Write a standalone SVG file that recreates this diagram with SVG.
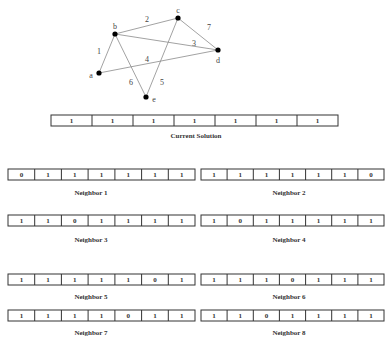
<svg xmlns="http://www.w3.org/2000/svg" width="386" height="338" viewBox="0 0 386 338">
  <style>
    .edge { stroke: #8a8a8a; stroke-width: 0.8; fill: none; }
    .node { fill: #000; }
    .glbl { font-family: "Liberation Serif", "Times New Roman", serif; font-size: 8px; fill: #444; text-anchor: middle; }
    .cell { fill: #fff; stroke: #333; stroke-width: 1; }
    .bit { font-family: "Liberation Serif", "Times New Roman", serif; font-size: 7px; font-weight: bold; fill: #333; text-anchor: middle; }
    .cap { font-family: "Liberation Serif", "Times New Roman", serif; font-size: 7px; font-weight: bold; fill: #333; text-anchor: middle; }
  </style>

  <!-- graph edges -->
  <g id="connectors">
    <line class="edge" x1="115" y1="34" x2="178" y2="18"/>
    <line class="edge" x1="178" y1="18" x2="218" y2="50"/>
    <line class="edge" x1="115" y1="34" x2="218" y2="50"/>
    <line class="edge" x1="99" y1="73" x2="115" y2="34"/>
    <line class="edge" x1="99" y1="73" x2="218" y2="50"/>
    <line class="edge" x1="115" y1="34" x2="146" y2="97"/>
    <line class="edge" x1="178" y1="18" x2="146" y2="97"/>
    <text class="glbl" x="147" y="22">2</text>
    <text class="glbl" x="209" y="30">7</text>
    <text class="glbl" x="99" y="54">1</text>
    <text class="glbl" x="194" y="46">3</text>
    <text class="glbl" x="147" y="62">4</text>
    <text class="glbl" x="131" y="85">6</text>
    <text class="glbl" x="162" y="85">5</text>
  </g>

  <!-- graph vertices -->
  <g id="node-a"><circle class="node" cx="99" cy="73" r="2.6"/><text class="glbl" x="91" y="78">a</text></g>
  <g id="node-b"><circle class="node" cx="115" cy="34" r="2.6"/><text class="glbl" x="115" y="29">b</text></g>
  <g id="node-c"><circle class="node" cx="178" cy="18" r="2.6"/><text class="glbl" x="178" y="13">c</text></g>
  <g id="node-d"><circle class="node" cx="218" cy="50" r="2.6"/><text class="glbl" x="218" y="63">d</text></g>
  <g id="node-e"><circle class="node" cx="146" cy="97" r="2.6"/><text class="glbl" x="154" y="102">e</text></g>

  <!-- current solution vector -->
  <g id="current">
    <rect class="cell" x="51" y="115" width="287" height="11"/>
    <g stroke="#333" stroke-width="1">
      <line x1="92" y1="115" x2="92" y2="126"/><line x1="133" y1="115" x2="133" y2="126"/>
      <line x1="174" y1="115" x2="174" y2="126"/><line x1="215" y1="115" x2="215" y2="126"/>
      <line x1="256" y1="115" x2="256" y2="126"/><line x1="297" y1="115" x2="297" y2="126"/>
    </g>
    <text class="bit" x="71.5" y="123">1</text><text class="bit" x="112.5" y="123">1</text>
    <text class="bit" x="153.5" y="123">1</text><text class="bit" x="194.5" y="123">1</text>
    <text class="bit" x="235.5" y="123">1</text><text class="bit" x="276.5" y="123">1</text>
    <text class="bit" x="317.5" y="123">1</text>
    <text class="cap" x="196" y="138">Current Solution</text>
  </g>

  <defs>
    <!-- left and right 7-cell vectors -->
    <g id="vecL">
      <rect class="cell" x="8" y="0" width="187" height="11"/>
      <g stroke="#333" stroke-width="1">
        <line x1="34.7" y1="0" x2="34.7" y2="11"/><line x1="61.4" y1="0" x2="61.4" y2="11"/>
        <line x1="88.1" y1="0" x2="88.1" y2="11"/><line x1="114.9" y1="0" x2="114.9" y2="11"/>
        <line x1="141.6" y1="0" x2="141.6" y2="11"/><line x1="168.3" y1="0" x2="168.3" y2="11"/>
      </g>
    </g>
    <g id="vecR">
      <rect class="cell" x="201" y="0" width="183" height="11"/>
      <g stroke="#333" stroke-width="1">
        <line x1="227.1" y1="0" x2="227.1" y2="11"/><line x1="253.3" y1="0" x2="253.3" y2="11"/>
        <line x1="279.4" y1="0" x2="279.4" y2="11"/><line x1="305.6" y1="0" x2="305.6" y2="11"/>
        <line x1="331.7" y1="0" x2="331.7" y2="11"/><line x1="357.9" y1="0" x2="357.9" y2="11"/>
      </g>
    </g>
  </defs>

  <g id="neighbor-1" transform="translate(0,169)">
    <use href="#vecL"/>
    <text class="bit" x="21.4" y="8">0</text><text class="bit" x="48.1" y="8">1</text><text class="bit" x="74.8" y="8">1</text>
    <text class="bit" x="101.5" y="8">1</text><text class="bit" x="128.2" y="8">1</text><text class="bit" x="155" y="8">1</text>
    <text class="bit" x="181.7" y="8">1</text>
    <text class="cap" x="91" y="26">Neighbor 1</text>
  </g>
  <g id="neighbor-2" transform="translate(0,169)">
    <use href="#vecR"/>
    <text class="bit" x="214" y="8">1</text><text class="bit" x="240.2" y="8">1</text><text class="bit" x="266.4" y="8">1</text>
    <text class="bit" x="292.5" y="8">1</text><text class="bit" x="318.6" y="8">1</text><text class="bit" x="344.8" y="8">1</text>
    <text class="bit" x="371" y="8">0</text>
    <text class="cap" x="289" y="26">Neighbor 2</text>
  </g>

  <g id="neighbor-3" transform="translate(0,215)">
    <use href="#vecL"/>
    <text class="bit" x="21.4" y="8">1</text><text class="bit" x="48.1" y="8">1</text><text class="bit" x="74.8" y="8">0</text>
    <text class="bit" x="101.5" y="8">1</text><text class="bit" x="128.2" y="8">1</text><text class="bit" x="155" y="8">1</text>
    <text class="bit" x="181.7" y="8">1</text>
    <text class="cap" x="91" y="27">Neighbor 3</text>
  </g>
  <g id="neighbor-4" transform="translate(0,215)">
    <use href="#vecR"/>
    <text class="bit" x="214" y="8">1</text><text class="bit" x="240.2" y="8">0</text><text class="bit" x="266.4" y="8">1</text>
    <text class="bit" x="292.5" y="8">1</text><text class="bit" x="318.6" y="8">1</text><text class="bit" x="344.8" y="8">1</text>
    <text class="bit" x="371" y="8">1</text>
    <text class="cap" x="289" y="27">Neighbor 4</text>
  </g>

  <g id="neighbor-5" transform="translate(0,274)">
    <use href="#vecL"/>
    <text class="bit" x="21.4" y="8">1</text><text class="bit" x="48.1" y="8">1</text><text class="bit" x="74.8" y="8">1</text>
    <text class="bit" x="101.5" y="8">1</text><text class="bit" x="128.2" y="8">1</text><text class="bit" x="155" y="8">0</text>
    <text class="bit" x="181.7" y="8">1</text>
    <text class="cap" x="91" y="25">Neighbor 5</text>
  </g>
  <g id="neighbor-6" transform="translate(0,274)">
    <use href="#vecR"/>
    <text class="bit" x="214" y="8">1</text><text class="bit" x="240.2" y="8">1</text><text class="bit" x="266.4" y="8">1</text>
    <text class="bit" x="292.5" y="8">0</text><text class="bit" x="318.6" y="8">1</text><text class="bit" x="344.8" y="8">1</text>
    <text class="bit" x="371" y="8">1</text>
    <text class="cap" x="289" y="25">Neighbor 6</text>
  </g>

  <g id="neighbor-7" transform="translate(0,310)">
    <use href="#vecL"/>
    <text class="bit" x="21.4" y="8">1</text><text class="bit" x="48.1" y="8">1</text><text class="bit" x="74.8" y="8">1</text>
    <text class="bit" x="101.5" y="8">1</text><text class="bit" x="128.2" y="8">0</text><text class="bit" x="155" y="8">1</text>
    <text class="bit" x="181.7" y="8">1</text>
    <text class="cap" x="91" y="25">Neighbor 7</text>
  </g>
  <g id="neighbor-8" transform="translate(0,310)">
    <use href="#vecR"/>
    <text class="bit" x="214" y="8">1</text><text class="bit" x="240.2" y="8">1</text><text class="bit" x="266.4" y="8">0</text>
    <text class="bit" x="292.5" y="8">1</text><text class="bit" x="318.6" y="8">1</text><text class="bit" x="344.8" y="8">1</text>
    <text class="bit" x="371" y="8">1</text>
    <text class="cap" x="289" y="25">Neighbor 8</text>
  </g>
</svg>
